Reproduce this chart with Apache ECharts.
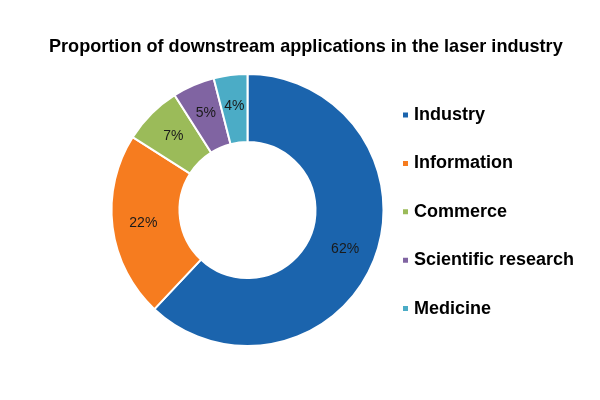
<!DOCTYPE html>
<html><head><meta charset="utf-8">
<script src="https://cdn.jsdelivr.net/npm/echarts@6/dist/echarts.min.js"></script>
<style>html,body{margin:0;padding:0;background:#fff}#c{width:600px;height:400px}</style>
</head><body><div id="c"></div>
<script>
const titleText = "Proportion of downstream applications in the laser industry";
const categories = ["Industry", "Information", "Commerce", "Scientific research", "Medicine"];
const values = [62, 22, 7, 5, 4];
const colors = ["#1b64ad", "#f67c1f", "#9bbb59", "#8064a2", "#4bacc6"];

const chart = echarts.init(document.getElementById('c'));
chart.setOption({
  backgroundColor: '#fff',
  animation: false,
  color: colors,
  title: {
    text: titleText,
    left: 44, top: 33,
    textStyle: {fontFamily: 'Liberation Sans, Arial', fontSize: 18.1, fontWeight: 'bold', color: '#000'}
  },
  legend: {
    orient: 'vertical', left: 396, top: 101,
    itemWidth: 7, itemHeight: 7, itemGap: 30.4,
    icon: 'rect',
    textStyle: {fontFamily: 'Liberation Sans, Arial', fontSize: 18, fontWeight: 'bold', color: '#000'},
    data: categories
  },
  series: [{
    type: 'pie',
    center: [247.5, 210],
    radius: [68, 136],
    startAngle: 90,
    clockwise: true,
    itemStyle: {borderColor: '#fff', borderWidth: 2},
    label: {
      show: true, position: 'inside',
      formatter: p => p.value + '%',
      fontFamily: 'Liberation Sans, Arial', fontSize: 14, color: '#1a1a1a'
    },
    labelLine: {show: false},
    data: categories.map((c, i) => ({name: c, value: values[i]}))
  }]
});
</script></body></html>
